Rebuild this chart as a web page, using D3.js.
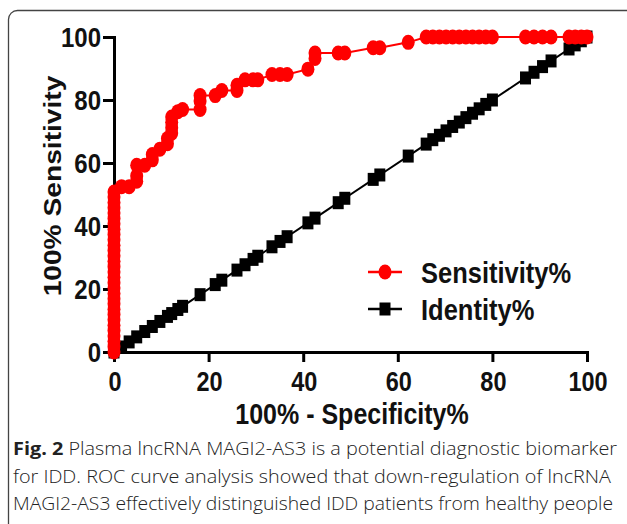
<!DOCTYPE html>
<html><head><meta charset="utf-8">
<script src="https://cdn.jsdelivr.net/npm/d3@7/dist/d3.min.js"></script>
<style>body{margin:0;background:#fff}svg{display:block}</style>
</head><body>
<svg id="chart" width="627" height="524"></svg>
<script>
// ---- data ----
const sensX = [0,0,0,0,0,0,0,0,0,0,0,0,0,0,0,0,0,0,0,0,0,0,0,0,0,0,0,0,0,0,0,
  1.6,3.2,4.8,4.8,4.8,6.5,8.1,8.1,9.7,11.3,11.3,12.2,12.2,12.2,12.2,13.5,14.5,
  18.2,18.2,18.2,21.4,22.8,26,26,27.7,29.4,30.4,33.4,35.1,36.6,41,42.5,42.5,47.4,48.8,
  54.8,56.2,62.2,66,67.4,68.8,70.2,71.6,73,74.4,75.8,77.2,78.6,80,
  87,88.8,90.6,92.4,96.2,97.5,98.8,100];
const sensY = [0,1.7,3.4,5.1,6.8,8.5,10.2,11.9,13.6,15.3,16.9,18.6,20.3,22,23.7,25.4,27.1,28.8,30.5,32.2,33.9,35.6,37.3,39,40.7,42.4,44.1,45.8,47.5,49.2,50.8,
  52.5,52.5,54.2,55.9,59.3,59.3,61,62.7,64.4,66.1,67.8,69.5,71.2,72.9,74.6,76.3,77,
  77,79.7,81.4,81.4,83,83,84.7,86.4,86.4,86.4,88.1,88.1,88.1,89.8,93.2,94.9,94.9,94.9,
  96.6,96.6,98.3,100,100,100,100,100,100,100,100,100,100,100,
  100,100,100,100,100,100,100,100];
const identX = [0,1.6,3.2,4.8,6.5,8.1,9.7,11.3,12.2,13.5,14.5,18.2,21.4,22.8,26,27.7,29.4,30.4,33.4,35.1,36.6,41,42.5,47.4,48.8,
  54.8,56.2,62.2,66,67.4,68.8,70.2,71.6,73,74.4,75.8,77.2,78.6,80,87,88.8,90.6,92.4,96.2,97.5,98.8,100];
const identY = [0,1.6,3.2,4.8,6.5,8.1,9.7,11.3,12.2,13.5,14.5,18.2,21.4,22.8,26,27.7,29.4,30.4,33.4,35.1,36.6,41,42.5,47.4,48.8,
  54.8,56.2,62.2,66,67.4,68.8,70.2,71.6,73,74.4,75.8,77.2,78.6,80,87,88.8,90.6,92.4,96.2,97.5,98.8,100];
const xTicks = [0,20,40,60,80,100];
const yTicks = [0,20,40,60,80,100];
const seriesNames = ["Sensitivity%","Identity%"];
const seriesColors = ["#ff0000","#000000"];
const xTitle = "100% - Specificity%";
const yTitle = "100% Sensitivity";
const captionBold = "Fig. 2";
const captionLines = [
  " Plasma lncRNA MAGI2-AS3 is a potential diagnostic biomarker",
  "for IDD. ROC curve analysis showed that down-regulation of lncRNA",
  "MAGI2-AS3 effectively distinguished IDD patients from healthy people"
];

// ---- drawing ----
const svg = d3.select("#chart");
const FONT = "Arial, 'Liberation Sans', sans-serif";
const SY = 1.15;

// frame
svg.append("rect").attr("x",8.5).attr("y",10.5).attr("width",640).attr("height",540)
  .attr("rx",9).attr("fill","none").attr("stroke","#444").attr("stroke-width",1.3);

const x = d3.scaleLinear().domain([0,100]).range([114,587]);
const y = d3.scaleLinear().domain([0,100]).range([352,37]);

// axes
const xAxis = svg.append("g").attr("transform","translate(0,352)")
  .call(d3.axisBottom(x).tickValues(xTicks).tickSize(10).tickFormat(""));
const yAxis = svg.append("g").attr("transform","translate(114,0)")
  .call(d3.axisLeft(y).tickValues(yTicks).tickSize(11).tickFormat(""));
[xAxis,yAxis].forEach(a=>{
  a.select(".domain").attr("stroke","#000").attr("stroke-width",3);
  a.selectAll(".tick line").attr("stroke","#000").attr("stroke-width",3);
});
// tick labels
xTicks.forEach(t=>{
  svg.append("text").attr("transform",`translate(${x(t)+1},391) scale(1,${SY})`)
    .attr("text-anchor","middle").attr("font-family",FONT).attr("font-weight","bold")
    .attr("font-size",23.5).attr("fill","#111").text(t);
});
yTicks.forEach(t=>{
  svg.append("text").attr("transform",`translate(101,${y(t)+10}) scale(1,${SY})`)
    .attr("text-anchor","end").attr("font-family",FONT).attr("font-weight","bold")
    .attr("font-size",24).attr("fill","#111").text(t);
});
// titles
svg.append("text").attr("transform",`translate(352,424) scale(1,${SY})`)
  .attr("text-anchor","middle").attr("font-family",FONT).attr("font-weight","bold")
  .attr("font-size",25).attr("fill","#111").text(xTitle);
svg.append("text").attr("transform",`translate(61,186) scale(1,${SY}) rotate(-90)`)
  .attr("text-anchor","middle").attr("font-family",FONT).attr("font-weight","bold")
  .attr("font-size",24.5).attr("fill","#111").text(yTitle);

// series
const line = d3.line().x(d=>x(d[0])).y(d=>y(d[1]));
const identData = identX.map((v,i)=>[v,identY[i]]);
const sensData = sensX.map((v,i)=>[v,sensY[i]]);

svg.append("path").datum(identData).attr("d",line).attr("fill","none")
  .attr("stroke",seriesColors[1]).attr("stroke-width",2);
svg.append("g").selectAll("rect").data(identData).join("rect")
  .attr("x",d=>x(d[0])-5.5).attr("y",d=>y(d[1])-6.5).attr("width",11).attr("height",13)
  .attr("fill",seriesColors[1]);

svg.append("path").datum(sensData).attr("d",line).attr("fill","none")
  .attr("stroke",seriesColors[0]).attr("stroke-width",2);
svg.append("g").selectAll("ellipse").data(sensData).join("ellipse")
  .attr("cx",d=>x(d[0])).attr("cy",d=>y(d[1])).attr("rx",6.5).attr("ry",7.5)
  .attr("fill",seriesColors[0]);

// legend
const lg = svg.append("g");
seriesNames.forEach((n,i)=>{
  const ly = 272 + i*37;
  lg.append("line").attr("x1",368).attr("x2",402).attr("y1",ly).attr("y2",ly)
    .attr("stroke",seriesColors[i]).attr("stroke-width",2.5);
  if(i===0) lg.append("ellipse").attr("cx",385).attr("cy",ly).attr("rx",6.5).attr("ry",7.5).attr("fill",seriesColors[i]);
  else lg.append("rect").attr("x",379.5).attr("y",ly-6.5).attr("width",11).attr("height",13).attr("fill",seriesColors[i]);
  lg.append("text").attr("transform",`translate(421,${ly+10.5}) scale(1,${SY})`)
    .attr("font-family",FONT).attr("font-weight","bold").attr("font-size",25.5)
    .attr("fill","#111").text(n);
});

// caption
const CF = "'Open Sans', 'Noto Sans', sans-serif";
const widths = [604,598,600];
captionLines.forEach((t,i)=>{
  const tx = svg.append("text").attr("x",13).attr("y",455+i*27.5)
    .attr("font-family",CF).attr("font-size",18).attr("fill","#222")
    .attr("font-weight",300)
    .attr("textLength",widths[i]).attr("lengthAdjust","spacingAndGlyphs");
  if(i===0){
    tx.append("tspan").attr("font-weight","bold").text(captionBold);
  }
  tx.append("tspan").text(t);
});
</script>
</body></html>
